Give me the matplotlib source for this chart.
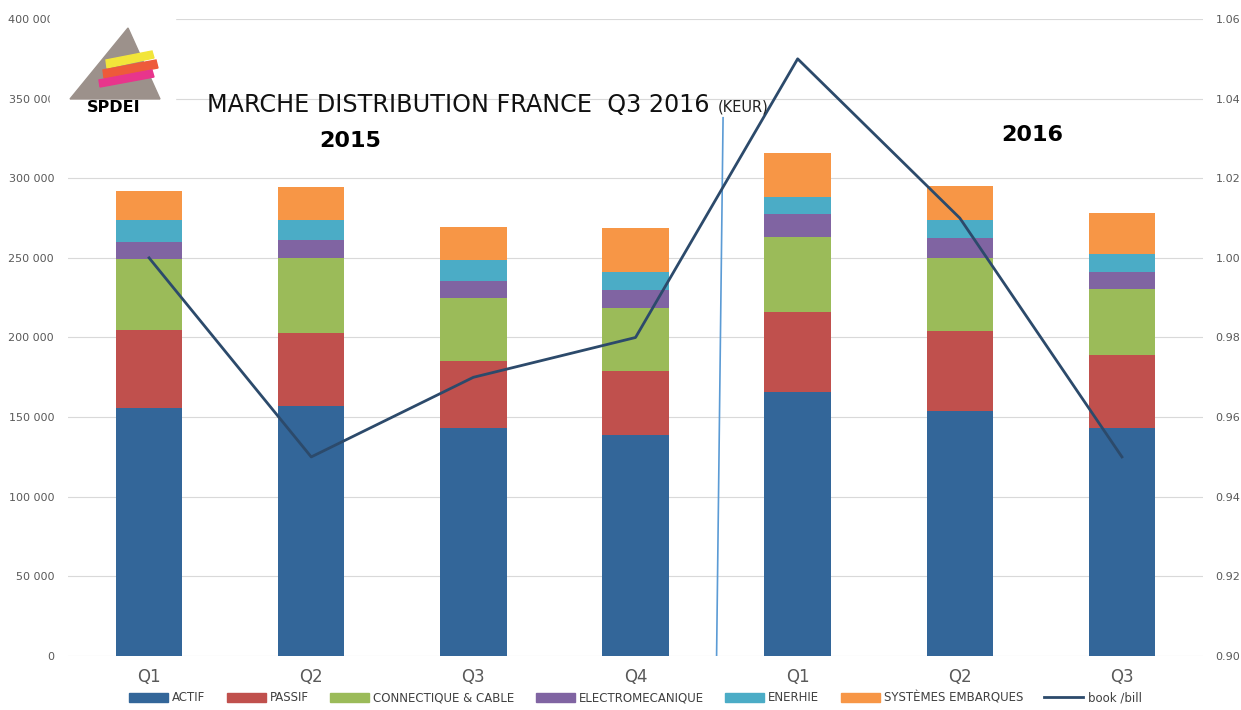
import matplotlib.pyplot as plt
from matplotlib.patches import Polygon, Rectangle
from matplotlib.lines import Line2D
import numpy as np

# donnees (KEUR)
quarters = ['Q1', 'Q2', 'Q3', 'Q4', 'Q1', 'Q2', 'Q3']
actif = [156000, 157000, 143000, 139000, 166000, 154000, 143000]
passif = [49000, 46000, 42500, 40000, 50000, 50000, 46000]
connectique = [44000, 47000, 39000, 39500, 47000, 46000, 41500]
electromeca = [11000, 11000, 11000, 11500, 14500, 12500, 10500]
enerhie = [14000, 13000, 13000, 11000, 10500, 11500, 11500]
systemes = [18000, 20500, 21000, 28000, 28000, 21000, 25500]
book_bill = [1.00, 0.95, 0.97, 0.98, 1.05, 1.01, 0.95]

series = [
    ('ACTIF', actif, '#336699'),
    ('PASSIF', passif, '#c0504d'),
    ('CONNECTIQUE & CABLE', connectique, '#9bbb59'),
    ('ELECTROMECANIQUE', electromeca, '#8064a2'),
    ('ENERHIE', enerhie, '#4bacc6'),
    ('SYSTÈMES EMBARQUES', systemes, '#f79646'),
]

fig = plt.figure(figsize=(12.41, 7.10), dpi=100)
ax = fig.add_axes([0.0548, 0.0761, 0.9146, 0.8971])
x = np.arange(len(quarters))

bottom = np.zeros(len(quarters))
handles = []
for name, vals, col in series:
    ax.bar(x, vals, 0.41, bottom=bottom, color=col, zorder=2)
    bottom += np.array(vals)
    handles.append(Rectangle((0, 0), 1, 1, color=col, label=name))

ax.set_xlim(-0.5, len(quarters) - 0.5)
ax.set_ylim(0, 400000)
ax.set_yticks(np.arange(0, 400001, 50000))
ax.set_yticklabels([f'{v:,}'.replace(',', ' ') for v in range(0, 400001, 50000)])
ax.set_xticks(x)
ax.set_xticklabels(quarters)
ax.grid(axis='y', color='#d9d9d9', linewidth=0.8, zorder=0)
for s in ax.spines.values():
    s.set_visible(False)
ax.tick_params(axis='y', length=0, labelsize=8, labelcolor='#595959', pad=10)
ax.tick_params(axis='x', length=0, labelsize=12, labelcolor='#595959', pad=9)

ax2 = ax.twinx()
ax2.plot(x, book_bill, color='#2c4a6b', linewidth=2, zorder=3)
ax2.set_ylim(0.90, 1.06)
ax2.set_yticks(np.arange(0.90, 1.0601, 0.02))
ax2.set_yticklabels([f'{v:.2f}' for v in np.arange(0.90, 1.0601, 0.02)])
for s in ax2.spines.values():
    s.set_visible(False)
ax2.tick_params(axis='y', length=0, labelsize=8, labelcolor='#595959', pad=9)

# separateur 2015 / 2016
ax.plot([3.5, 3.54], [0, 338000], color='#5b9bd5', linewidth=1.2, zorder=4)

fig.text(0.167, 0.852, 'MARCHE DISTRIBUTION FRANCE  Q3 2016', fontsize=17.2,
         color='#111111', va='center', ha='left')
fig.text(0.578, 0.849, '(KEUR)', fontsize=10.5, color='#222222', va='center', ha='left')
fig.text(0.282, 0.802, '2015', fontsize=16, fontweight='bold', va='center', ha='center')
fig.text(0.832, 0.810, '2016', fontsize=16, fontweight='bold', va='center', ha='center')

# logo SPDEI
W, H = 1241, 710
def fc(px, py):
    return (px / W, 1 - py / H)

fig.patches.append(Rectangle(fc(50, 125), 125 / W, 112 / H, transform=fig.transFigure,
                             color='white', zorder=5))
fig.patches.append(Polygon([fc(128, 28), fc(70, 99), fc(160, 99)], closed=True,
                           transform=fig.transFigure, color='#9c918b', zorder=6))
stripes = [
    ([fc(106, 60), fc(152, 51), fc(154, 58), fc(107, 68)], '#f2e53a'),
    ([fc(103, 70), fc(156, 60), fc(158, 68), fc(104, 78)], '#ee5a3a'),
    ([fc(99, 80), fc(152, 70), fc(154, 77), fc(100, 87)], '#e8358c'),
]
for pts, col in stripes:
    fig.patches.append(Polygon(pts, closed=True, transform=fig.transFigure,
                               color=col, zorder=7))
fig.text(*fc(114, 107), 'SPDEI', fontsize=11.5, fontweight='heavy', ha='center',
         va='center', family='DejaVu Sans', zorder=8)

handles.append(Line2D([0], [0], color='#2c4a6b', linewidth=2, label='book /bill'))
fig.legend(handles=handles, loc='center', bbox_to_anchor=(0.512, 0.017), ncol=7,
           frameon=False, fontsize=8.5, handlelength=3.3, handleheight=0.8,
           columnspacing=1.8, handletextpad=0.35, labelcolor='#404040')

fig.savefig('out.png', dpi=100)
